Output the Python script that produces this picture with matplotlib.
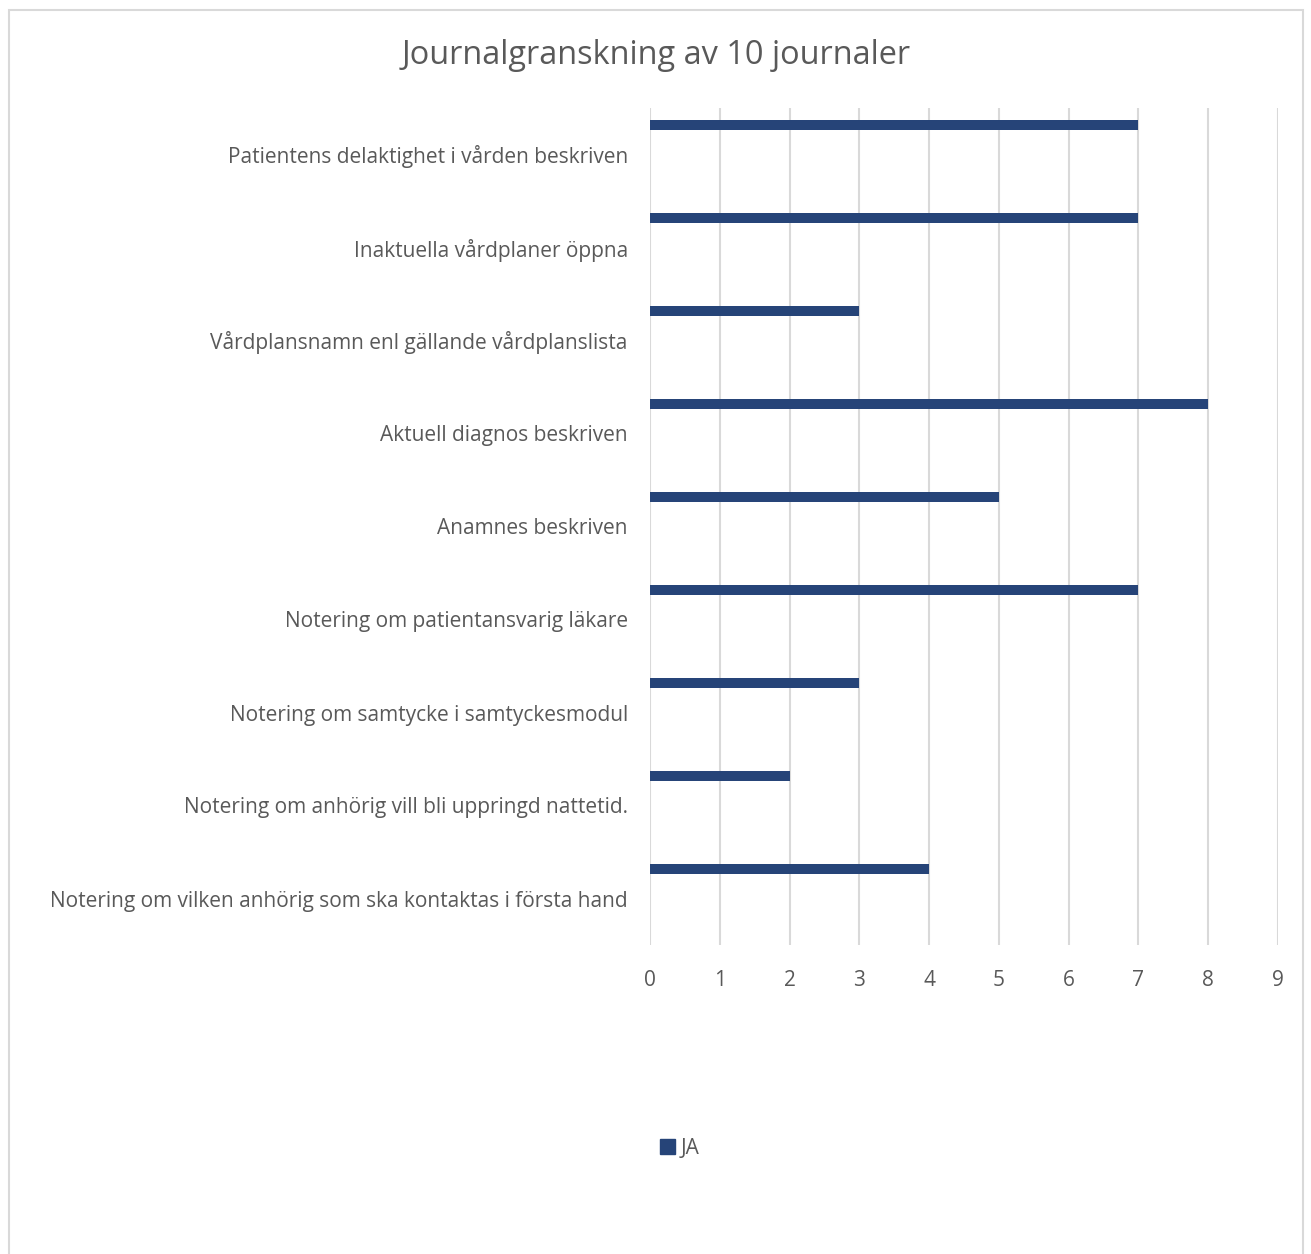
import matplotlib.pyplot as plt
from matplotlib.patches import Patch, Rectangle

categories = [
    "Patientens delaktighet i vården beskriven",
    "Inaktuella vårdplaner öppna",
    "Vårdplansnamn enl gällande vårdplanslista",
    "Aktuell diagnos beskriven",
    "Anamnes beskriven",
    "Notering om patientansvarig läkare",
    "Notering om samtycke i samtyckesmodul",
    "Notering om anhörig vill bli uppringd nattetid.",
    "Notering om vilken anhörig som ska kontaktas i första hand",
]
ja_values = [7, 7, 3, 8, 5, 7, 3, 2, 4]
x_ticks = list(range(0, 10))

plt.rcParams["font.family"] = ["Open Sans", "DejaVu Sans"]
text_color = "#595959"
bar_color = "#264478"

fig = plt.figure(figsize=(13.11, 12.54), dpi=100)
ax = fig.add_axes([650 / 1311, 1 - 945 / 1254, 628 / 1311, 837 / 1254])

pos = list(range(len(categories)))
# Excel-liknande klustrad stapel: JA ligger överst i varje kategori
ax.barh([p - 0.32 for p in pos], ja_values, height=0.11, color=bar_color, zorder=3)

ax.set_xlim(0, 9)
ax.set_ylim(len(categories) - 0.5, -0.5)
ax.set_xticks(x_ticks)
ax.set_yticks(pos)
ax.set_yticklabels(categories)
ax.tick_params(length=0, labelsize=15, labelcolor=text_color)
ax.tick_params(axis="x", pad=18)
ax.tick_params(axis="y", pad=16)
ax.grid(axis="x", color="#d9d9d9", linewidth=1.5, zorder=0)
ax.set_axisbelow(True)
for spine in ax.spines.values():
    spine.set_visible(False)

fig.text(656 / 1311, 1 - 55 / 1254, "Journalgranskning av 10 journaler",
         ha="center", va="center", fontsize=23.4, color=text_color)

fig.legend(handles=[Patch(color=bar_color, label="JA")], loc="center",
           bbox_to_anchor=(680 / 1311, 1 - 1148 / 1254), frameon=False,
           fontsize=15, labelcolor=text_color, handlelength=0.7, handleheight=0.7,
           handletextpad=0.3)

fig.patches.append(Rectangle((9 / 1311, -0.01), 1294 / 1311, 1 - 10 / 1254 + 0.01,
                             transform=fig.transFigure, fill=False,
                             edgecolor="#d9d9d9", linewidth=1.5))

fig.savefig("out.png", dpi=100, facecolor="white")
